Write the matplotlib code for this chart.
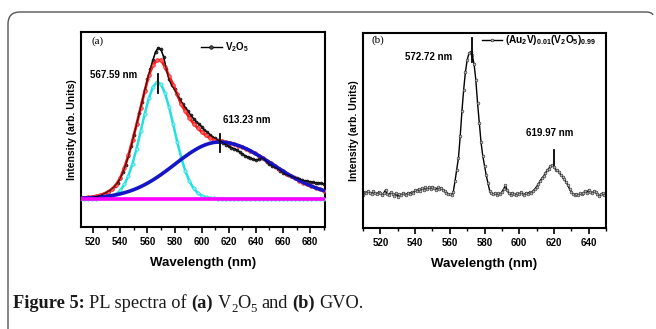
import matplotlib
matplotlib.use('Agg')
import matplotlib.pyplot as plt
from matplotlib.path import Path
from matplotlib.patches import PathPatch
from matplotlib.ticker import MultipleLocator
import numpy as np

plt.rcParams['font.family'] = ['Liberation Sans', 'DejaVu Sans']
plt.rcParams['mathtext.fontset'] = 'custom'
plt.rcParams['mathtext.rm'] = 'Liberation Serif'
plt.rcParams['mathtext.bf'] = 'Liberation Serif:bold'
plt.rcParams['mathtext.sf'] = 'Liberation Sans:bold'

# ---------------- Panel (a) data: V2O5 ----------------
fit_x = list(range(510, 691, 3))
fit_cyan = [0, 0, 0.0001, 0.0002, 0.0005, 0.0013, 0.0030, 0.0067, 0.0139, 0.0272,
            0.0497, 0.0856, 0.1385, 0.2106, 0.3007, 0.4033, 0.5083, 0.6017, 0.6692, 0.6991,
            0.686, 0.6326, 0.5479, 0.4458, 0.3408, 0.2447, 0.1650, 0.1046, 0.0622, 0.0349,
            0.0183, 0.0090, 0.0042, 0.0018, 0.0007, 0.0003,
            0, 0, 0, 0, 0, 0, 0, 0, 0, 0, 0, 0, 0, 0, 0, 0, 0, 0, 0, 0, 0, 0, 0, 0, 0]
fit_blue = [0.0026, 0.0034, 0.0044, 0.0058, 0.0075, 0.0096, 0.0121, 0.0153, 0.0191, 0.0236,
            0.0290, 0.0354, 0.0428, 0.0512, 0.0609, 0.0718, 0.0839, 0.0973, 0.1119, 0.1276,
            0.1443, 0.1619, 0.1801, 0.1987, 0.2175, 0.2360, 0.2540, 0.2711, 0.2871, 0.3014,
            0.3139, 0.3241, 0.3320, 0.3373, 0.3398, 0.3397, 0.337, 0.333, 0.327, 0.319,
            0.310, 0.299, 0.287, 0.273, 0.259, 0.244, 0.228, 0.213, 0.197, 0.181,
            0.166, 0.150, 0.136, 0.122, 0.109, 0.097, 0.0855, 0.075, 0.0654, 0.0568, 0.049]
fit_red = [0.004, 0.006, 0.008, 0.011, 0.015, 0.020, 0.030, 0.042, 0.058, 0.085,
           0.125, 0.185, 0.260, 0.350, 0.445, 0.545, 0.645, 0.740, 0.800, 0.830,
           0.832, 0.790, 0.735, 0.684, 0.625, 0.565, 0.525, 0.485, 0.450, 0.425,
           0.400, 0.380, 0.364, 0.355, 0.348, 0.345, 0.337, 0.333, 0.327, 0.319,
           0.310, 0.299, 0.287, 0.273, 0.259, 0.244, 0.228, 0.213, 0.197, 0.181,
           0.166, 0.150, 0.136, 0.122, 0.109, 0.097, 0.0855, 0.075, 0.0654, 0.0568, 0.049]
base_x = [511, 691]
base_y = [0.0, 0.0]

v2o5_x = list(range(518, 691, 2))
v2o5_y = [0.005, 0.008, 0.012, 0.016, 0.022, 0.030, 0.038, 0.048, 0.060, 0.076,
          0.096, 0.122, 0.160, 0.205, 0.255, 0.315, 0.380, 0.445, 0.515, 0.580,
          0.650, 0.715, 0.775, 0.830, 0.880, 0.905, 0.895, 0.850, 0.775, 0.715,
          0.680, 0.655, 0.625, 0.595, 0.570, 0.545, 0.525, 0.500, 0.480, 0.462,
          0.448, 0.432, 0.412, 0.400, 0.385, 0.370, 0.362, 0.352, 0.345, 0.335,
          0.325, 0.315, 0.305, 0.300, 0.292, 0.280, 0.268, 0.258, 0.250, 0.244,
          0.236, 0.232, 0.236, 0.244, 0.240, 0.222, 0.206, 0.196, 0.188, 0.180,
          0.168, 0.156, 0.146, 0.140, 0.134, 0.128, 0.124, 0.118, 0.112, 0.106,
          0.104, 0.102, 0.098, 0.096, 0.094, 0.092, 0.090]
peaks_a = [567.59, 613.23]
peak_labels_a = ['567.59 nm', '613.23 nm']
ticks_a = [520, 540, 560, 580, 600, 620, 640, 660, 680]

# ---------------- Panel (b) data: GVO ----------------
gvo_x = list(range(510, 651, 1))
gvo_y = [0.170, 0.185, 0.178, 0.190, 0.182, 0.176, 0.188, 0.180, 0.172, 0.185,
         0.178, 0.168, 0.180, 0.195, 0.175, 0.170, 0.183, 0.176, 0.165, 0.178,
         0.160, 0.172, 0.168, 0.180, 0.174, 0.170, 0.182, 0.176, 0.185, 0.178,
         0.195, 0.188, 0.200, 0.192, 0.205, 0.196, 0.208, 0.198, 0.210, 0.200,
         0.212, 0.203, 0.196, 0.208, 0.200, 0.206, 0.195, 0.190, 0.182, 0.176,
         0.172, 0.168, 0.185, 0.240, 0.300, 0.360, 0.470, 0.600, 0.710, 0.800,
         0.860, 0.895, 0.905, 0.885, 0.840, 0.760, 0.640, 0.540, 0.440, 0.370,
         0.320, 0.270, 0.230, 0.190, 0.178, 0.172, 0.180, 0.170, 0.178, 0.172,
         0.185, 0.200, 0.218, 0.195, 0.178, 0.170, 0.182, 0.175, 0.168, 0.178,
         0.172, 0.185, 0.176, 0.170, 0.182, 0.175, 0.185, 0.178, 0.190, 0.200,
         0.212, 0.225, 0.240, 0.255, 0.265, 0.280, 0.295, 0.305, 0.318, 0.322,
         0.312, 0.300, 0.295, 0.285, 0.272, 0.262, 0.250, 0.235, 0.220, 0.200,
         0.185, 0.176, 0.170, 0.175, 0.168, 0.178, 0.172, 0.180, 0.190, 0.182,
         0.195, 0.185, 0.178, 0.190, 0.183, 0.176, 0.165, 0.172, 0.180, 0.168,
         0.175]
peaks_b = [572.72, 619.97]
peak_labels_b = ['572.72 nm', '619.97 nm']
ticks_b = [520, 540, 560, 580, 600, 620, 640]

W, H = 656, 329
fig = plt.figure(figsize=(W / 100, H / 100), dpi=100)


def style_axes(ax, ticks):
    for sp in ax.spines.values():
        sp.set_linewidth(1.5)
    ax.set_yticks([])
    ax.set_xticks(ticks, labels=[str(t) for t in ticks], fontsize=7, fontweight='bold')
    ax.xaxis.set_minor_locator(MultipleLocator(10))
    ax.tick_params(axis='x', which='major', direction='out', length=4, width=1.2, pad=3.5)
    ax.tick_params(axis='x', which='minor', direction='out', length=2.5, width=1.0)
    ax.set_xlabel('Wavelength (nm)', fontsize=9.5, fontweight='bold', labelpad=7)
    ax.set_ylabel('Intensity (arb. Units)', fontsize=7.5, fontweight='bold', labelpad=3)


# ---- Panel (a)
axa = fig.add_axes([81 / W, 1 - 227 / H, 244 / W, 195 / H])
axa.plot(v2o5_x, v2o5_y, color='black', lw=1.0, marker='o', ms=2.2, mfc='#444444', mec='black',
         mew=0.4, label=r'$\mathsf{V_2O_5}$', zorder=2)
axa.plot(fit_x, fit_red, color='#ff1a1a', lw=2.0, marker='o', ms=2.6, mfc='#ff6060', mec='#ff1a1a',
         mew=0.5, zorder=3)
axa.plot(fit_x, fit_cyan, color='#20e0e0', lw=1.8, marker='o', ms=2.4, mfc='#80f0f0', mec='#20e0e0',
         mew=0.5, zorder=3)
axa.plot(fit_x, fit_blue, color='#1515c8', lw=2.6, zorder=3)
axa.plot(base_x, base_y, color='#ff00ff', lw=2.6, zorder=4)
axa.plot(v2o5_x, v2o5_y, color='black', lw=0.9, alpha=0.7, zorder=3.5)
axa.set_xlim(511, 691)
axa.set_ylim(-0.17, 1.0)
style_axes(axa, ticks_a)

for pk, comp in zip(peaks_a, [fit_cyan, fit_blue]):
    yc = np.interp(pk, fit_x, comp)
    axa.plot([pk, pk], [yc - 0.06, yc + 0.05], color='black', lw=1.3, zorder=5)
axa.text(517.6, 0.74, peak_labels_a[0], fontsize=7, fontweight='bold', ha='left', va='center')
axa.text(615.7, 0.474, peak_labels_a[1], fontsize=7, fontweight='bold', ha='left', va='center')
axa.text(0.045, 0.955, '(a)', transform=axa.transAxes, fontsize=8, family='Liberation Serif',
         ha='left', va='center')
axa.legend(loc='center left', bbox_to_anchor=(0.49, 0.92), frameon=False, fontsize=7,
           handlelength=2.2, handletextpad=0.3, borderpad=0, borderaxespad=0, markerscale=1.2)

# ---- Panel (b)
axb = fig.add_axes([363 / W, 1 - 228 / H, 243 / W, 195 / H])
axb.plot(gvo_x, gvo_y, color='black', lw=1.0, marker='o', ms=2.0, mfc='#bbbbbb', mec='#222222',
         mew=0.4, label=r'$\mathsf{(Au_2V)_{0.01}(V_2O_5)_{0.99}}$')
axb.set_xlim(510, 650)
axb.set_ylim(0, 1.0)
style_axes(axb, ticks_b)
for pk, lo, hi in zip(peaks_b, [0.853, 0.323], [0.972, 0.398]):
    axb.plot([pk, pk], [lo, hi], color='black', lw=1.3)
axb.text(534.1, 0.877, peak_labels_b[0], fontsize=7, fontweight='bold', ha='left', va='center')
axb.text(604.1, 0.487, peak_labels_b[1], fontsize=7, fontweight='bold', ha='left', va='center')
axb.text(0.037, 0.962, '(b)', transform=axb.transAxes, fontsize=8, family='Liberation Serif',
         ha='left', va='center')
axb.legend(loc='center left', bbox_to_anchor=(0.49, 0.962), frameon=False, fontsize=7.3,
           handlelength=2.0, handletextpad=0.3, borderpad=0, borderaxespad=0)


# ---- Outer frame (rounded top-left corner)
def fx(x):
    return x / W


def fy(y):
    return 1 - y / H


verts = [(fx(8), fy(329)), (fx(8), fy(24)), (fx(8), fy(12)), (fx(20), fy(12)),
         (fx(646), fy(12)), (fx(652), fy(12)), (fx(653), fy(15))]
codes = [Path.MOVETO, Path.LINETO, Path.CURVE3, Path.CURVE3, Path.LINETO, Path.CURVE3, Path.CURVE3]
frame = PathPatch(Path(verts, codes), transform=fig.transFigure, fill=False,
                  edgecolor='#555555', lw=1.0)
fig.patches.append(frame)

# ---- Caption built from pieces
renderer = fig.canvas.get_renderer()
cap_size = 13.2
serif = 'Liberation Serif'
pieces = [('Figure 5:', 'bold', False), (' ', 'normal', False), ('PL spectra of', 'normal', False),
          (' ', 'normal', False), ('(a)', 'bold', False), (' ', 'normal', False),
          ('V', 'normal', False), ('2', 'normal', True), ('O', 'normal', False), ('5', 'normal', True),
          (' ', 'normal', False), ('and', 'normal', False), (' ', 'normal', False),
          ('(b)', 'bold', False), (' ', 'normal', False), ('GVO.', 'normal', False)]


def text_width(s, size, weight):
    t = fig.text(0, 0, s, fontsize=size, family=serif, fontweight=weight)
    w = t.get_window_extent(renderer).width
    t.remove()
    return w


space_w = text_width('x x', cap_size, 'normal') - text_width('xx', cap_size, 'normal')
xpix = 13.0
ybase = 308.0
for s, wt, sub in pieces:
    if s == ' ':
        xpix += space_w
        continue
    size = cap_size * 0.7 if sub else cap_size
    yy = ybase + (3.5 if sub else 0)
    t = fig.text(xpix / W, fy(yy), s, fontsize=size, family=serif, fontweight=wt,
                 ha='left', va='baseline', color='#1a1a1a')
    xpix += t.get_window_extent(renderer).width

fig.savefig('out.png', dpi=100)
